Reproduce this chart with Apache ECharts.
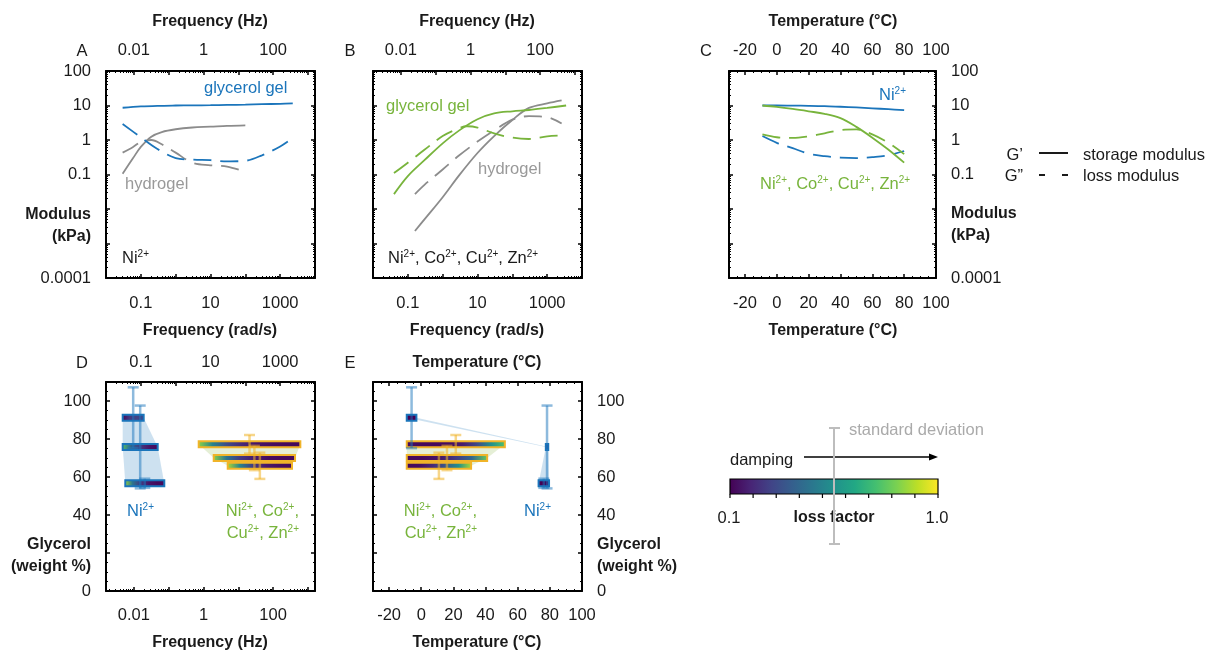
<!DOCTYPE html>
<html><head><meta charset="utf-8">
<script src="https://cdn.jsdelivr.net/npm/echarts@6/dist/echarts.min.js"></script>
<style>html,body{margin:0;padding:0;background:#fff}#c{width:1217px;height:652px}</style>
</head><body><div id="c"></div>
<script>
// ================= DATA =================
// Panel A: frequency (rad/s) vs modulus (kPa), Ni2+
const aGelFreq = [0.03, 0.1, 0.3, 1, 3, 10, 30, 100, 300, 1000, 2300];
const aGelStorage = [8.6, 9.4, 9.8, 10, 10.1, 10.2, 10.4, 10.6, 10.9, 11.2, 11.5];
const aGelLoss = [2.9, 1.2, 0.55, 0.3, 0.27, 0.26, 0.24, 0.25, 0.36, 0.65, 1.15];
const aHydFreq = [0.03, 0.06, 0.1, 0.2, 0.4, 1, 3, 10, 30, 100];
const aHydStorage = [0.105, 0.3, 0.63, 1.25, 1.7, 2.05, 2.3, 2.43, 2.57, 2.66];
const aHydLoss = [0.43, 0.63, 0.88, 1.0, 0.75, 0.43, 0.22, 0.185, 0.17, 0.12];
// Panel B: Ni2+, Co2+, Cu2+, Zn2+
const bGelFreq = [0.04, 0.1, 0.3, 1, 3, 10, 30, 100, 300, 1000, 3500];
const bGelStorage = [0.027, 0.09, 0.26, 0.8, 1.9, 4.0, 5.9, 6.8, 7.4, 8.5, 10];
const bGelLossFreq = [0.04, 0.1, 0.3, 1, 3, 5, 10, 30, 100, 300, 1000, 3500];
const bGelLoss = [0.11, 0.22, 0.52, 1.3, 2.2, 2.5, 2.3, 1.55, 1.17, 1.07, 1.28, 1.38];
const bHydFreq = [0.16, 0.3, 1, 3, 10, 30, 100, 300, 1000, 2600];
const bHydStorage = [0.0023, 0.005, 0.022, 0.096, 0.42, 1.3, 3.8, 8.5, 11.5, 14];
const bHydLoss = [0.027, 0.05, 0.14, 0.36, 0.9, 1.9, 3.9, 4.9, 4.6, 3.0];
// Panel C: temperature (°C) vs modulus (kPa)
const cTemp = [-9, 0, 10, 20, 30, 40, 50, 60, 70, 80];
const cNiStorage = [10, 10, 9.9, 9.8, 9.6, 9.2, 8.8, 8.3, 7.8, 7.3];
const cNiLoss = [1.3, 0.83, 0.58, 0.4, 0.34, 0.31, 0.3, 0.32, 0.36, 0.48];
const cMixStorage = [10, 9.1, 7.95, 6.8, 5.75, 4.3, 2.4, 1.17, 0.53, 0.22];
const cMixLoss = [1.45, 1.2, 1.15, 1.28, 1.56, 1.95, 2.04, 1.46, 0.83, 0.39];
// Panels D, E: glycerol weight % (mean, standard deviation)
const niGlycerol = [91.2, 75.8, 56.7];
const niGlycerolSd = [16, 21.8, 2.4];
const mixGlycerol = [77.2, 70, 65.9];
const mixGlycerolSd = [4.9, 6.4, 6.9];
// Panel D: frequency ranges (Hz) and loss factor along each range
const niFreqMin = [0.0048, 0.0048, 0.0057];
const niFreqMax = [0.0192, 0.0485, 0.075];
const mixFreqMin = [0.73, 1.97, 4.97];
const mixFreqMax = [604, 425, 348];
const niFreqLossFactor = [[0.1, 0.25, 0.28, 0.25], [0.75, 0.4, 0.25, 0.15, 0.12], [0.87, 0.45, 0.25, 0.15, 0.12, 0.12]];
const mixFreqLossFactor = [[0.85, 0.5, 0.3, 0.2, 0.15, 0.13, 0.12, 0.12], [0.85, 0.45, 0.25, 0.17, 0.13, 0.12, 0.12], [0.9, 0.5, 0.25, 0.16, 0.13, 0.12]];
// Panel E: temperature ranges (°C) and loss factor along each range
const niTempMin = [-9, 77.5, 73];
const niTempMax = [-3, 79, 79.5];
const mixTempMin = [-9, -9, -9];
const mixTempMax = [52, 41, 31];
const niTempLossFactor = [[0.1, 0.1], [0.12, 0.12], [0.1, 0.1]];
const mixTempLossFactor = [[0.13, 0.12, 0.12, 0.13, 0.17, 0.3, 0.55, 0.75], [0.12, 0.12, 0.15, 0.25, 0.4, 0.8], [0.12, 0.13, 0.2, 0.35, 0.55, 0.9]];
// Tick labels
const radLabels = ['0.1', '10', '1000'];
const hzLabels = ['0.01', '1', '100'];
const modulusLabels = ['100', '10', '1', '0.1', '0.0001'];
const tempLabels = ['-20', '0', '20', '40', '60', '80', '100'];
const glycerolLabels = ['0', '40', '60', '80', '100'];
const lossFactorLabels = ['0.1', '1.0'];

// ================= STYLE =================
const FONT = 'Liberation Sans';
const FS = 16.5;
const BLUE = '#1b75bb', GREEN = '#78b43c', GREY = '#8c8c8c', GOLD = '#f0b429', INK = '#1a1a1a';
const NI_EB = 'rgba(27,117,187,0.5)', MIX_EB = 'rgba(240,180,41,0.55)';
const NI_SHADE = 'rgba(27,117,187,0.22)', MIX_SHADE = 'rgba(150,190,90,0.25)';
const VIRIDIS = ['#440154', '#482475', '#414487', '#355f8d', '#2a788e', '#21918c', '#22a884', '#44bf70', '#7ad151', '#bddf26', '#fde725'];
function hex(c) { return [parseInt(c.slice(1, 3), 16), parseInt(c.slice(3, 5), 16), parseInt(c.slice(5, 7), 16)]; }
function viridis(l) {
  let t = Math.max(0, Math.min(1, (l - 0.1) / 0.9)) * 10;
  const i = Math.min(9, Math.floor(t)); const f = t - i;
  const a = hex(VIRIDIS[i]), b = hex(VIRIDIS[i + 1]);
  return 'rgb(' + a.map((v, k) => Math.round(v + (b[k] - v) * f)).join(',') + ')';
}
const TWO_PI = 2 * Math.PI;

function fmtNum(v) {
  if (v > 0) {
    const k = Math.log10(v), r = Math.round(k);
    if (Math.abs(k - r) < 1e-6) return r >= 0 ? String(Math.pow(10, r)) : Math.pow(10, r).toFixed(-r);
  }
  return String(Math.round(v * 1000) / 1000);
}
function labelFmt(list) { return function (v) { const s = fmtNum(v); return list.indexOf(s) >= 0 ? s : ''; }; }

function axis(gridIndex, position, type, range, labels, margin, extra) {
  const o = {
    gridIndex: gridIndex, position: position, type: type, min: range[0], max: range[1],
    axisLine: { show: true, onZero: false, lineStyle: { color: '#000', width: 2 } },
    axisTick: { show: true, inside: true, length: 4, lineStyle: { color: '#000', width: 1.5 } },
    minorTick: { show: true, splitNumber: type === 'log' ? 9 : 4, length: 2, lineStyle: { color: '#000', width: 1 } },
    splitLine: { show: false }, minorSplitLine: { show: false },
    axisLabel: labels ? { show: true, margin: margin, fontSize: FS, fontFamily: FONT, color: INK, formatter: labelFmt(labels), showMinLabel: true, showMaxLabel: true, hideOverlap: false } : { show: false }
  };
  if (type === 'log') o.logBase = 10;
  return Object.assign(o, extra || {});
}
const RAD = [0.01, 10000], HZ = [0.01 / TWO_PI, 10000 / TWO_PI], MOD = [0.0001, 100], TEMP = [-30, 100], GLY = [0, 110];

const grids = [
  { left: 106, top: 71, width: 209, height: 207 },
  { left: 373, top: 71, width: 209, height: 207 },
  { left: 729, top: 71, width: 207, height: 207 },
  { left: 106, top: 382, width: 209, height: 209 },
  { left: 373, top: 382, width: 209, height: 209 }
];
const xAxes = [
  axis(0, 'bottom', 'log', RAD, radLabels, 17), axis(0, 'top', 'log', HZ, hzLabels, 12),
  axis(1, 'bottom', 'log', RAD, radLabels, 17), axis(1, 'top', 'log', HZ, hzLabels, 12),
  axis(2, 'bottom', 'value', TEMP, tempLabels, 17, { splitNumber: 6 }), axis(2, 'top', 'value', TEMP, tempLabels, 12, { splitNumber: 6 }),
  axis(3, 'bottom', 'log', HZ, hzLabels, 16), axis(3, 'top', 'log', RAD, radLabels, 11),
  axis(4, 'bottom', 'value', TEMP, tempLabels, 16, { splitNumber: 6 }), axis(4, 'top', 'value', TEMP, null, 0, { splitNumber: 6 })
];
const yAxes = [
  axis(0, 'left', 'log', MOD, modulusLabels, 15), axis(0, 'right', 'log', MOD, null),
  axis(1, 'left', 'log', MOD, null), axis(1, 'right', 'log', MOD, null),
  axis(2, 'left', 'log', MOD, null), axis(2, 'right', 'log', MOD, modulusLabels, 15),
  axis(3, 'left', 'value', GLY, glycerolLabels, 15, { splitNumber: 5 }), axis(3, 'right', 'value', GLY, null, 0, { splitNumber: 5 }),
  axis(4, 'left', 'value', GLY, null, 0, { splitNumber: 5 }), axis(4, 'right', 'value', GLY, glycerolLabels, 15, { splitNumber: 5 })
];

function zip(a, b) { return a.map((v, i) => [v, b[i]]); }
function line(ai, xs, ys, color, dashed) {
  return { type: 'line', xAxisIndex: ai, yAxisIndex: ai, data: zip(xs, ys), smooth: 0.35, showSymbol: false, silent: true,
    lineStyle: { color: color, width: 1.8, type: dashed ? [18, 9] : 'solid', cap: 'butt' } };
}

function makeBars(mins, maxs, gly, sd, loss, stroke, eb, shade) {
  return mins.map((lo, i) => ({ lo: lo, hi: maxs[i], g: gly[i], sd: sd[i], loss: loss[i], stroke: stroke, eb: eb, shade: shade }));
}
function panelSeries(ai, groups) {
  const bars = [].concat.apply([], groups);
  return [
    { type: 'custom', xAxisIndex: ai, yAxisIndex: ai, silent: true, encode: { x: 0, y: 1 },
      data: groups.map(g => [g[0].lo, g[0].g]),
      renderItem: function (p, api) {
        const g = groups[p.dataIndex];
        const rights = g.map(b => api.coord([b.hi, b.g]));
        const lefts = g.map(b => api.coord([b.lo, b.g])).reverse();
        return { type: 'polygon', shape: { points: rights.concat(lefts) }, style: { fill: g[0].shade } };
      } },
    { type: 'custom', xAxisIndex: ai, yAxisIndex: ai, silent: true, encode: { x: [0, 1], y: 2 },
      data: bars.map(b => [b.lo, b.hi, b.g]),
      renderItem: function (p, api) {
        const b = bars[p.dataIndex];
        const a = api.coord([b.lo, b.g]), c = api.coord([b.hi, b.g]);
        const ls = b.loss.length > 1 ? b.loss : [b.loss[0], b.loss[0]];
        const stops = ls.map((l, i) => ({ offset: i / (ls.length - 1), color: viridis(l) }));
        const h = 6;
        return { type: 'rect', shape: { x: a[0], y: a[1] - h / 2, width: Math.max(2, c[0] - a[0]), height: h },
          style: { fill: new echarts.graphic.LinearGradient(0, 0, 1, 0, stops), stroke: b.stroke, lineWidth: 2 } };
      } },
    { type: 'custom', xAxisIndex: ai, yAxisIndex: ai, silent: true, encode: { x: 0, y: [1, 2] },
      data: bars.map(b => [b.lo, b.g - b.sd, b.g + b.sd]),
      renderItem: function (p, api) {
        const b = bars[p.dataIndex];
        const a = api.coord([b.lo, b.g]), c = api.coord([b.hi, b.g]);
        const x = (a[0] + c[0]) / 2;
        const yt = api.coord([b.lo, b.g + b.sd])[1], yb = api.coord([b.lo, b.g - b.sd])[1];
        const w = 5.5, st = { stroke: b.eb, lineWidth: 2.5 };
        return { type: 'group', children: [
          { type: 'line', shape: { x1: x, y1: yt, x2: x, y2: yb }, style: st },
          { type: 'line', shape: { x1: x - w, y1: yt, x2: x + w, y2: yt }, style: st },
          { type: 'line', shape: { x1: x - w, y1: yb, x2: x + w, y2: yb }, style: st }] };
      } }
  ];
}
const dGroups = [
  makeBars(niFreqMin, niFreqMax, niGlycerol, niGlycerolSd, niFreqLossFactor, BLUE, NI_EB, NI_SHADE),
  makeBars(mixFreqMin, mixFreqMax, mixGlycerol, mixGlycerolSd, mixFreqLossFactor, GOLD, MIX_EB, MIX_SHADE)
];
const eGroups = [
  makeBars(niTempMin, niTempMax, niGlycerol, niGlycerolSd, niTempLossFactor, BLUE, NI_EB, NI_SHADE),
  makeBars(mixTempMin, mixTempMax, mixGlycerol, mixGlycerolSd, mixTempLossFactor, GOLD, MIX_EB, MIX_SHADE)
];

const series = [
  line(0, aHydFreq, aHydStorage, GREY, false), line(0, aHydFreq, aHydLoss, GREY, true),
  line(0, aGelFreq, aGelStorage, BLUE, false), line(0, aGelFreq, aGelLoss, BLUE, true),
  line(2, bHydFreq, bHydStorage, GREY, false), line(2, bHydFreq, bHydLoss, GREY, true),
  line(2, bGelFreq, bGelStorage, GREEN, false), line(2, bGelLossFreq, bGelLoss, GREEN, true),
  line(4, cTemp, cNiStorage, BLUE, false), line(4, cTemp, cNiLoss, BLUE, true),
  line(4, cTemp, cMixStorage, GREEN, false), line(4, cTemp, cMixLoss, GREEN, true)
].concat(panelSeries(6, dGroups), panelSeries(8, eGroups));

// ================= TEXT / LEGEND GRAPHICS =================
function T(x, y, text, o) {
  o = o || {};
  const size = o.bold ? 16 : FS, fill = o.color || INK;
  return { type: 'text', x: x, y: y, z: 50, silent: true,
    style: { text: text, fill: fill, fontFamily: FONT, fontSize: size, fontWeight: o.bold ? 'bold' : 'normal',
      align: o.align || 'left', verticalAlign: 'middle',
      rich: { s: { fontSize: 10, fontFamily: FONT, fill: fill, verticalAlign: 'top' } } } };
}
function L(x1, y1, x2, y2, color, w) { return { type: 'line', z: 50, silent: true, shape: { x1: x1, y1: y1, x2: x2, y2: y2 }, style: { stroke: color, lineWidth: w } }; }
const ions = 'Ni{s|2+}, Co{s|2+}, Cu{s|2+}, Zn{s|2+}';
const g = [
  T(210, 22, 'Frequency (Hz)', { bold: true, align: 'center' }),
  T(477, 22, 'Frequency (Hz)', { bold: true, align: 'center' }),
  T(833, 22, 'Temperature (°C)', { bold: true, align: 'center' }),
  T(210, 331, 'Frequency (rad/s)', { bold: true, align: 'center' }),
  T(477, 331, 'Frequency (rad/s)', { bold: true, align: 'center' }),
  T(833, 331, 'Temperature (°C)', { bold: true, align: 'center' }),
  T(477, 363, 'Temperature (°C)', { bold: true, align: 'center' }),
  T(210, 643, 'Frequency (Hz)', { bold: true, align: 'center' }),
  T(477, 643, 'Temperature (°C)', { bold: true, align: 'center' }),
  T(82, 51, 'A', { align: 'center' }), T(350, 51, 'B', { align: 'center' }), T(706, 51, 'C', { align: 'center' }),
  T(82, 363, 'D', { align: 'center' }), T(350, 363, 'E', { align: 'center' }),
  T(91, 215, 'Modulus', { bold: true, align: 'right' }), T(91, 237, '(kPa)', { bold: true, align: 'right' }),
  T(951, 214, 'Modulus', { bold: true }), T(951, 236, '(kPa)', { bold: true }),
  T(91, 545, 'Glycerol', { bold: true, align: 'right' }), T(91, 567, '(weight %)', { bold: true, align: 'right' }),
  T(597, 545, 'Glycerol', { bold: true }), T(597, 567, '(weight %)', { bold: true }),
  T(204, 88, 'glycerol gel', { color: BLUE }), T(125, 184, 'hydrogel', { color: '#999' }), T(122, 258, 'Ni{s|2+}'),
  T(386, 106, 'glycerol gel', { color: GREEN }), T(478, 169, 'hydrogel', { color: '#999' }), T(388, 258, ions),
  T(879, 95, 'Ni{s|2+}', { color: BLUE }), T(760, 184, ions, { color: GREEN }),
  T(127, 511, 'Ni{s|2+}', { color: BLUE }),
  T(299, 511, 'Ni{s|2+}, Co{s|2+},', { color: GREEN, align: 'right' }), T(299, 533, 'Cu{s|2+}, Zn{s|2+}', { color: GREEN, align: 'right' }),
  T(477, 511, 'Ni{s|2+}, Co{s|2+},', { color: GREEN, align: 'right' }), T(477, 533, 'Cu{s|2+}, Zn{s|2+}', { color: GREEN, align: 'right' }),
  T(524, 511, 'Ni{s|2+}', { color: BLUE }),
  // G' / G'' legend
  T(1023, 155, 'G’', { align: 'right' }), T(1023, 176, 'G”', { align: 'right' }),
  L(1039, 153, 1068, 153, '#000', 1.8), L(1039, 175, 1045, 175, '#000', 1.8), L(1062, 175, 1068, 175, '#000', 1.8),
  T(1083, 155, 'storage modulus'), T(1083, 176, 'loss modulus'),
  // loss factor colour bar
  { type: 'rect', z: 40, silent: true, shape: { x: 730, y: 479, width: 208, height: 15 },
    style: { fill: new echarts.graphic.LinearGradient(0, 0, 1, 0, VIRIDIS.map((c, i) => ({ offset: i / 10, color: c }))), stroke: '#000', lineWidth: 1.2 } },
  T(729, 518, lossFactorLabels[0], { align: 'center' }), T(937, 518, lossFactorLabels[1], { align: 'center' }),
  T(834, 518, 'loss factor', { bold: true, align: 'center' }),
  T(730, 460, 'damping'),
  L(804, 457, 931, 457, '#000', 1.5),
  { type: 'polygon', z: 50, silent: true, shape: { points: [[938, 457], [929, 453.5], [929, 460.5]] }, style: { fill: '#000' } },
  L(834, 428, 834, 544, '#bdbdbd', 2), L(829, 428, 840, 428, '#bdbdbd', 2), L(829, 544, 840, 544, '#bdbdbd', 2),
  T(849, 430, 'standard deviation', { color: '#aaa' })
];
for (let i = 0; i < 10; i++) { const x = 730 + i * 208 / 9; g.push(L(x, 494, x, 498, '#000', 1.2)); }

const chart = echarts.init(document.getElementById('c'), null, { renderer: 'canvas' });
chart.setOption({
  animation: false, backgroundColor: '#fff',
  textStyle: { fontFamily: FONT },
  grid: grids, xAxis: xAxes, yAxis: yAxes, series: series, graphic: g
});
</script></body></html>
